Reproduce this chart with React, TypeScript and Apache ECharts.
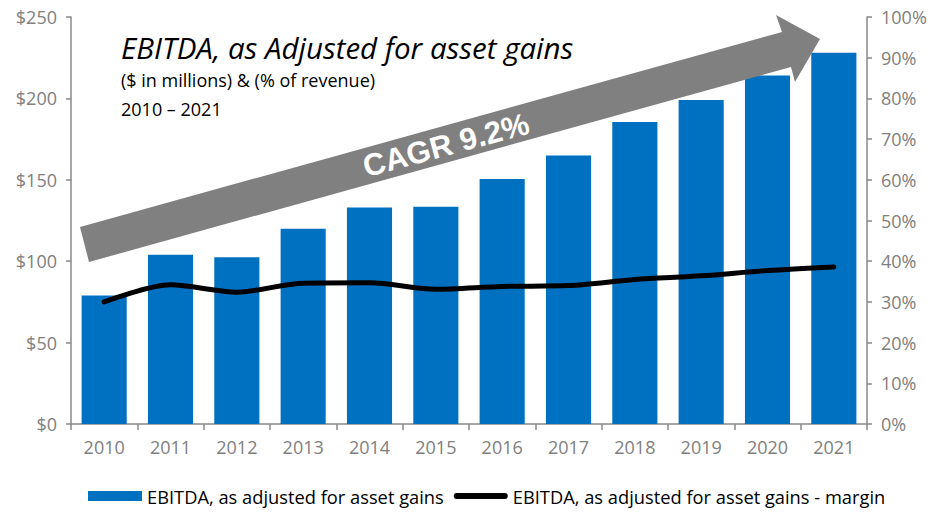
import React, { useEffect, useRef } from "react";
import * as echarts from "echarts";

const years = ["2010", "2011", "2012", "2013", "2014", "2015", "2016", "2017", "2018", "2019", "2020", "2021"];
const ebitda = [79, 104, 102.5, 120, 133, 133.5, 150.5, 165, 185.5, 199, 214, 228];
const margin = [30.0, 34.2, 32.4, 34.6, 34.7, 33.1, 33.8, 34.0, 35.5, 36.4, 37.7, 38.6];
const barName = "EBITDA, as adjusted for asset gains";
const lineName = "EBITDA, as adjusted for asset gains - margin";

const FONT = "'Open Sans', sans-serif";
const GRAY = "#808080";
const AXIS = "#898989";

export default function App() {
  const ref = useRef<HTMLDivElement>(null);
  useEffect(() => {
    document.body.style.margin = "0";
    const chart = echarts.init(ref.current!, undefined, { renderer: "svg" });
    chart.setOption({
      animation: false,
      textStyle: { fontFamily: FONT },
      grid: { left: 71, right: 66, top: 17, bottom: 89, containLabel: false },
      legend: {
        bottom: 3,
        left: 83,
        itemWidth: 54,
        itemHeight: 10,
        itemGap: 10,
        textStyle: { fontSize: 18.3, color: "#000", fontFamily: FONT },
        data: [
          { name: barName, icon: "rect" },
          {
            name: lineName,
            icon: "path://M3,0 L53,0 A3,3 0 0 1 53,6 L3,6 A3,3 0 0 1 3,0 Z",
            itemStyle: { color: "#000" },
          },
        ],
      },
      xAxis: {
        type: "category",
        data: years,
        axisLine: { lineStyle: { color: AXIS, width: 1.5 } },
        axisTick: { show: true, length: 6, alignWithLabel: false, lineStyle: { color: AXIS, width: 1.5 } },
        axisLabel: { color: GRAY, fontSize: 18, margin: 14, fontFamily: FONT },
      },
      yAxis: [
        {
          type: "value",
          min: 0,
          max: 250,
          interval: 50,
          splitLine: { show: false },
          axisLine: { show: true, lineStyle: { color: AXIS, width: 1.5 } },
          axisTick: { show: true, length: 5, lineStyle: { color: AXIS, width: 1.5 } },
          axisLabel: { color: GRAY, fontSize: 18, margin: 14, formatter: (v: number) => "$" + v, fontFamily: FONT },
        },
        {
          type: "value",
          min: 0,
          max: 100,
          interval: 10,
          position: "right",
          splitLine: { show: false },
          axisLine: { show: true, lineStyle: { color: AXIS, width: 1.5 } },
          axisTick: { show: true, length: 5, lineStyle: { color: AXIS, width: 1.5 } },
          axisLabel: { color: GRAY, fontSize: 18, margin: 14, formatter: (v: number) => v + "%", fontFamily: FONT },
        },
      ],
      series: [
        {
          name: barName,
          type: "bar",
          data: ebitda,
          barCategoryGap: "32%",
          itemStyle: { color: "#0070C0" },
          z: 2,
        },
        {
          name: lineName,
          type: "line",
          yAxisIndex: 1,
          data: margin,
          smooth: 0.3,
          symbol: "none",
          lineStyle: { color: "#000", width: 5, cap: "round" },
          itemStyle: { color: "#000" },
          z: 3,
        },
      ],
      graphic: [
        {
          type: "polygon",
          z: 100,
          shape: {
            points: [
              [80, 227],
              [782, 32],
              [776, 15],
              [820, 39],
              [795, 82],
              [791, 67],
              [89, 262],
            ],
          },
          style: { fill: "#808080" },
        },
        {
          type: "text",
          z: 101,
          x: 446,
          y: 145,
          rotation: (15 * Math.PI) / 180,
          style: {
            text: "CAGR 9.2%",
            fill: "#fff",
            font: "bold 31px 'Liberation Sans', Arial, sans-serif",
            textAlign: "center",
            textVerticalAlign: "middle",
          },
        },
        {
          type: "text",
          z: 101,
          x: 121,
          y: 47,
          style: {
            text: "EBITDA, as Adjusted for asset gains",
            fill: "#000",
            font: "italic 29.5px 'Open Sans', sans-serif",
            textAlign: "left",
            textVerticalAlign: "middle",
          },
        },
        {
          type: "text",
          z: 101,
          x: 121,
          y: 80,
          style: {
            text: "($ in millions) & (% of revenue)",
            fill: "#000",
            font: "18px 'Open Sans', sans-serif",
            textAlign: "left",
            textVerticalAlign: "middle",
          },
        },
        {
          type: "text",
          z: 101,
          x: 121,
          y: 109,
          style: {
            text: "2010 – 2021",
            fill: "#000",
            font: "18px 'Open Sans', sans-serif",
            textAlign: "left",
            textVerticalAlign: "middle",
          },
        },
      ],
    });
    return () => chart.dispose();
  }, []);
  return <div ref={ref} style={{ position: "absolute", left: 0, top: 0, width: 933, height: 513 }} />;
}
